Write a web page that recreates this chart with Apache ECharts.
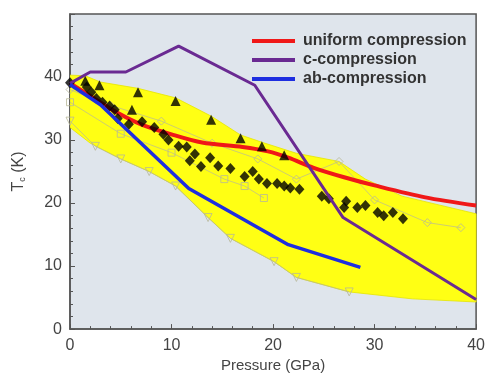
<!DOCTYPE html>
<html><head><meta charset="utf-8">
<script src="https://cdn.jsdelivr.net/npm/echarts@6/dist/echarts.min.js"></script>
<style>html,body{margin:0;padding:0;background:#fff}#c{width:488px;height:378px}</style>
</head><body><div id="c"></div>
<script>
// Axis ticks
const xTicks = [0, 10, 20, 30, 40];
const yTicks = [0, 10, 20, 30, 40];

// Model curves [pressure GPa, Tc K]
const uniformCompression = [[0,39],[2,37],[4.5,34.5],[7,32.5],[10,30.9],[13,29.6],[17,28.9],[19.5,28.2],[21.5,27.2],[24,25.6],[27,24.1],[30,22.8],[35,20.9],[40,19.6]];
const cCompression = [[0,39],[2,40.8],[5.5,40.8],[10.7,44.9],[18.2,38.7],[26.9,17.7],[40,4.7]];
const abCompression = [[0,38.8],[3,35.6],[11.7,22.3],[21.5,13.4],[28.6,9.8]];

// Experimental scatter band (yellow envelope)
const bandUpper = [[0,40.3],[1.5,40.2],[3,39.2],[6.7,38.2],[10.4,36.7],[13.9,33.8],[16.8,30.8],[19,29.6],[22.3,27.9],[26.5,26.6],[29.1,23.8],[32.7,21.1],[40,18.3]];
const bandLower = [[0,32],[2,29.5],[5,27],[7.8,25],[10.4,22.7],[13.6,17.7],[15.8,14.4],[20.1,10.7],[22.3,8.2],[27.5,5.9],[33.7,4.8],[40,4.3]];

// Filled diamonds
const diamonds = [[0,39.1],[1.65,38.4],[2.1,37.6],[2.6,36.6],[3.2,36.0],[3.9,35.4],[4.4,34.8],[4.7,33.4],[5.8,32.5],[7.1,32.9],[8.3,32.0],[9.2,30.9],[9.7,30.0],[10.7,29.0],[11.5,28.9],[12.3,27.8],[11.8,26.7],[12.9,25.8],[13.8,27.2],[14.6,25.9],[15.8,25.5],[17.2,24.2],[18.0,25.0],[18.6,23.8],[19.4,23.1],[20.4,23.1],[21.1,22.7],[21.7,22.4],[22.6,22.2],[24.8,21.1],[25.5,20.7],[27.2,20.3],[27.0,19.3],[28.3,19.3],[29.1,19.6],[30.3,18.5],[30.9,18.0],[31.8,18.5],[32.8,17.5]];
// Filled triangles
const triangles = [[1.5,39.4],[2.9,38.7],[6.1,34.8],[6.7,37.6],[10.4,36.2],[13.9,33.2],[16.8,30.3],[18.9,29.0],[21.1,27.6]];
// Open (grey) markers
const openDiamonds = [[0,38],[4,35.5],[9,33],[14,29.5],[18.5,27],[22.3,23.8],[26.5,26.6],[30,20.5],[35.2,16.9],[38.5,16.1]];
const openSquares = [[0,36],[5,31],[10,28],[15.2,23.8],[17.2,22.7],[19.1,20.8]];
const openTriDown = [[0,33],[2.5,29],[5,27],[7.8,25],[10.4,22.7],[13.6,17.7],[15.8,14.4],[20.1,10.7],[22.3,8.2],[27.5,5.9]];

const chart = echarts.init(document.getElementById('c'), null, {renderer:'canvas'});
const font = '"Liberation Sans", Arial, Helvetica, sans-serif';
const grey = '#b8b898';

chart.setOption({
  animation: false,
  backgroundColor: '#ffffff',
  grid: {left: 70, right: 6, top: 14, bottom: 42, show: true, backgroundColor: '#dfe5ec', borderColor: '#555', borderWidth: 1.5},
  legend: {
    orient: 'vertical', left: 247, top: 28, itemWidth: 43, itemHeight: 4, itemGap: 3, icon: 'rect',
    data: ['uniform compression', 'c-compression', 'ab-compression'],
    textStyle: {fontFamily: font, fontSize: 16, fontWeight: 'bold', color: '#333', padding: [0,0,0,3]}
  },
  xAxis: {
    type: 'value', min: xTicks[0], max: xTicks[xTicks.length-1], interval: 10,
    name: 'Pressure (GPa)', nameLocation: 'middle', nameGap: 28,
    nameTextStyle: {fontFamily: font, fontSize: 15, color: '#444'},
    axisLine: {lineStyle: {color: '#555', width: 1.5}},
    axisTick: {inside: true, length: 5, lineStyle: {color: '#555'}},
    minorTick: {show: true, splitNumber: 5, length: 3, lineStyle: {color: '#555'}},
    splitLine: {show: false},
    axisLabel: {fontFamily: font, fontSize: 16, color: '#444', margin: 8}
  },
  yAxis: {
    type: 'value', min: yTicks[0], max: 50, interval: 10,
    name: '{t|T}{s|c}{t| (K)}', nameLocation: 'middle', nameGap: 43, nameRotate: 90,
    nameTextStyle: {rich: {
      t: {fontFamily: font, fontSize: 16, color: '#444'},
      s: {fontFamily: font, fontSize: 9, color: '#444', padding: [8,0,0,0]}
    }},
    axisLine: {lineStyle: {color: '#555', width: 1.5}},
    axisTick: {inside: true, length: 5, lineStyle: {color: '#555'}},
    minorTick: {show: true, splitNumber: 5, length: 3, lineStyle: {color: '#555'}},
    splitLine: {show: false},
    axisLabel: {fontFamily: font, fontSize: 16, color: '#444', margin: 8,
      formatter: v => (yTicks.indexOf(v) >= 0 ? String(v) : '')}
  },
  series: [
    {
      type: 'custom', name: 'band', z: 1, silent: true,
      data: [[0, 0]],
      renderItem: function (params, api) {
        const poly = bandUpper.concat(bandLower.slice().reverse());
        return {type: 'polygon', shape: {points: poly.map(p => api.coord(p))},
          style: {fill: '#ffff14', stroke: '#e6e600', lineWidth: 0.8}};
      },
      clip: true
    },
    {type: 'line', name: 'od', data: openDiamonds, z: 2, symbol: 'diamond', symbolSize: 8,
      lineStyle: {color: grey, width: 0.7}, itemStyle: {color: 'rgba(0,0,0,0)', borderColor: grey, borderWidth: 0.8}},
    {type: 'line', name: 'os', data: openSquares, z: 2, symbol: 'rect', symbolSize: 7,
      lineStyle: {color: grey, width: 0.7}, itemStyle: {color: 'rgba(0,0,0,0)', borderColor: grey, borderWidth: 0.8}},
    {type: 'line', name: 'ot', data: openTriDown, z: 2, symbol: 'triangle', symbolRotate: 180, symbolSize: 8,
      lineStyle: {color: grey, width: 0.7}, itemStyle: {color: 'rgba(0,0,0,0)', borderColor: grey, borderWidth: 0.8}},
    {type: 'line', name: 'uniform compression', data: uniformCompression, z: 3, smooth: 0.3, showSymbol: false,
      color: '#f01818', lineStyle: {color: '#f01818', width: 4}},
    {type: 'scatter', name: 'tri', data: triangles, z: 4, symbol: 'triangle', symbolSize: 10, itemStyle: {color: '#000'}},
    {type: 'scatter', name: 'dia', data: diamonds, z: 4, symbol: 'diamond', symbolSize: [10, 11], itemStyle: {color: '#000'}},
    {type: 'line', name: 'c-compression', data: cCompression, z: 5, showSymbol: false,
      color: '#6a2a92', lineStyle: {color: '#6a2a92', width: 3}},
    {type: 'line', name: 'ab-compression', data: abCompression, z: 5, showSymbol: false,
      color: '#1e2ee0', lineStyle: {color: '#1e2ee0', width: 3.5}}
  ]
});
</script></body></html>
